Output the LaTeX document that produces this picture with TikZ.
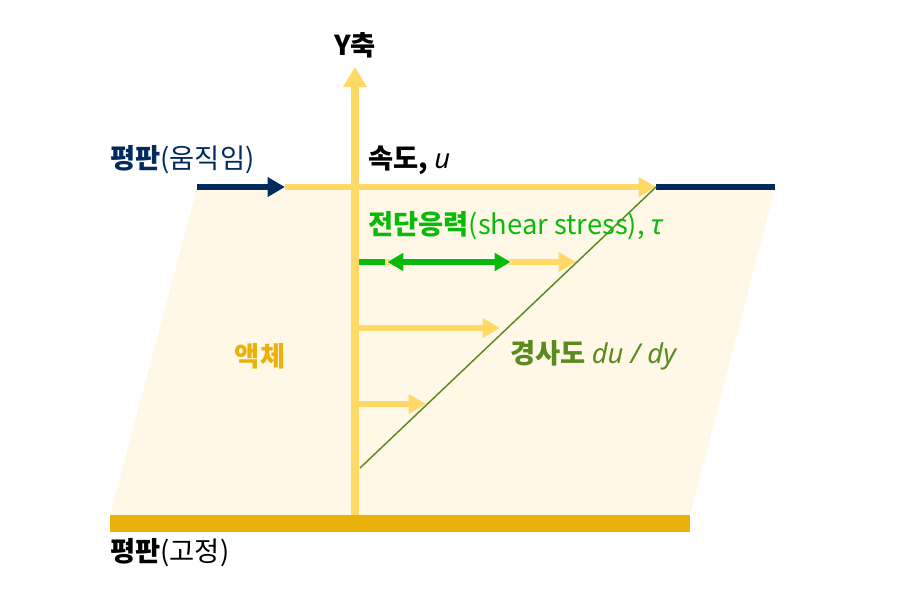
\documentclass[tikz,border=0pt]{standalone}
\usepackage{fontspec}
\setmainfont{Noto Sans CJK KR}
\newfontfamily\latinfont{Noto Sans}
\usetikzlibrary{positioning,arrows.meta}
\definecolor{plateblue}{HTML}{022A5C}
\definecolor{flowyellow}{HTML}{FFD966}
\definecolor{fluidfill}{HTML}{FFF8E6}
\definecolor{plategold}{HTML}{E9B10A}
\definecolor{stressgreen}{HTML}{0ABA0A}
\definecolor{slopegreen}{HTML}{5B8A1E}
\tikzset{
  >=Latex,
  flowarrow/.style={-{Triangle[length=13pt,width=14pt]},line width=4.5pt,draw=flowyellow},
  platearrow/.style={-{Triangle[length=13pt,width=14pt]},line width=4.5pt,draw=plateblue},
  label/.style={inner sep=0pt,font=\fontsize{20.5}{22}\selectfont}
}

\begin{document}
\begin{tikzpicture}[x=0.75pt,y=-0.75pt]
    \useasboundingbox (0,0) rectangle (900,600);
    % fluid between the plates
    \fill[fluidfill] (110,515) -- (690,515) -- (775,188) -- (197,188) -- cycle;
    \fill[plategold] (110,515) rectangle (690,532);

    \coordinate (base) at (355,515);
    \coordinate (ytip) at (355,67);
    \coordinate (mleft) at (197,187);
    \coordinate (mhead) at (285,187);
    \coordinate (utip) at (656,187);
    \coordinate (mright) at (775,187);
    \coordinate (slope0) at (360,468);

    % moving plate and velocity
    \draw[platearrow] (mleft) -- (mhead);
    \draw[plateblue,line width=4.5pt] (utip) -- (mright);
    \draw[flowarrow] (mhead) -- (utip);

    % velocity profile
    \draw[flowarrow] (base |- 0,262) coordinate (v3) -- (576,262) coordinate (v3tip);
    \draw[flowarrow] (base |- 0,328) coordinate (v2) -- (500,328) coordinate (v2tip);
    \draw[flowarrow] (base |- 0,404) coordinate (v1) -- (426,404) coordinate (v1tip);
    \draw[slopegreen,line width=1.1pt] (slope0) -- (utip);

    % shear stress
    \coordinate (sl) at (386,262);
    \coordinate (sr) at (512,262);
    \draw[stressgreen,line width=4.5pt] (v3) -- (385,262);
    \draw[{Triangle[length=14pt,width=15pt]}-{Triangle[length=14pt,width=15pt]},white,line width=6pt] (sl) -- (sr);
    \draw[{Triangle[length=12pt,width=13pt]}-{Triangle[length=12pt,width=13pt]},stressgreen,line width=4.5pt] ([xshift=1pt]sl) -- ([xshift=-1pt]sr);

    % y axis
    \draw[-{Triangle[length=15pt,width=17pt]},flowyellow,line width=6pt] (base) -- (ytip);

    % labels
    \node[label,font=\fontsize{20.5}{22}\selectfont\bfseries] (yaxis) at (355,45) {Y축};
    \node[label,anchor=west,text=plateblue] (moving) at (110,160) {\textbf{평판}(움직임)};
    \node[label,anchor=west] (speed) at (368,160) {\textbf{속도,} {\latinfont\itshape u}};
    \node[label,anchor=west,text=stressgreen] (stress) at (368,226) {\textbf{전단응력}(shear stress), {\latinfont\itshape τ}};
    \node[label,anchor=west,text=slopegreen] (slope) at (510,355) {\textbf{경사도} {\latinfont\itshape du / dy}};
    \node[label,font=\fontsize{20.5}{22}\selectfont\bfseries,text=plategold] (fluid) at (260,356) {액체};
    \node[label,anchor=west] (fixed) at (110,553) {\textbf{평판}(고정)};
\end{tikzpicture}
\end{document}
